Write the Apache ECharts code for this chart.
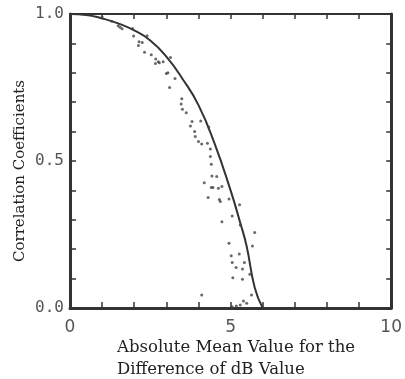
<!DOCTYPE html>
<html>
<head>
<meta charset="utf-8">
<script src="https://cdn.jsdelivr.net/npm/echarts@6/dist/echarts.min.js"></script>
<style>html,body{margin:0;padding:0;background:#fff;}#c{width:405px;height:379px;}</style>
</head>
<body>
<div id="c"></div>
<script>
// ---- data ----
var curveX = [0, 0.5, 1.0, 1.5, 2.0, 2.5, 3.0, 3.5, 4.0, 4.5, 5.0, 5.3, 5.5, 5.75, 6.0];
var curveY = [1.0, 0.997, 0.985, 0.968, 0.944, 0.91, 0.855, 0.78, 0.69, 0.56, 0.40, 0.29, 0.21, 0.07, 0.0];

var scatterX = [1.0, 1.3, 1.5, 1.56, 1.62, 1.95, 1.98, 2.4, 2.15, 2.25, 2.13, 2.32, 2.53, 2.67, 2.75, 2.78, 2.66, 2.9, 3.13, 3.0, 3.05, 3.27, 3.1, 3.48, 3.46, 3.5, 3.62, 3.8, 3.75, 4.07, 4.32, 3.88, 3.9, 4.0, 4.1, 4.28, 4.37, 4.37, 4.4, 4.42, 4.57, 4.18, 4.4, 4.45, 4.62, 4.73, 4.3, 4.65, 4.68, 4.95, 5.28, 5.05, 4.73, 5.3, 5.75, 4.95, 5.68, 5.02, 5.27, 5.05, 5.43, 5.17, 5.37, 5.6, 5.07, 5.37, 4.1, 5.65, 5.4, 5.5, 5.05, 5.18, 5.3];
var scatterY = [0.99, 0.975, 0.96, 0.955, 0.95, 0.951, 0.925, 0.926, 0.906, 0.903, 0.893, 0.87, 0.861, 0.847, 0.838, 0.834, 0.832, 0.838, 0.852, 0.798, 0.80, 0.781, 0.75, 0.712, 0.694, 0.676, 0.664, 0.634, 0.619, 0.636, 0.616, 0.60, 0.583, 0.566, 0.558, 0.56, 0.541, 0.515, 0.489, 0.449, 0.447, 0.426, 0.41, 0.41, 0.407, 0.413, 0.376, 0.369, 0.362, 0.371, 0.351, 0.313, 0.293, 0.282, 0.257, 0.22, 0.211, 0.178, 0.184, 0.155, 0.155, 0.138, 0.133, 0.115, 0.103, 0.098, 0.044, 0.044, 0.024, 0.016, 0.004, 0.007, 0.01];

var xLabeled = [0, 5, 10];
var yLabeled = [0.0, 0.5, 1.0];

var xTitle = 'Absolute Mean Value for the\nDifference of dB Value';
var yTitle = 'Correlation Coefficients';

// ---- build ----
var curveData = curveX.map(function (x, i) { return [x, curveY[i]]; });
var scatterData = scatterX.map(function (x, i) { return [x, scatterY[i]]; });

function isLabeled(list, v) {
  for (var i = 0; i < list.length; i++) { if (Math.abs(list[i] - v) < 1e-6) return true; }
  return false;
}

var axisColor = '#333';
var chart = echarts.init(document.getElementById('c'), null, { renderer: 'canvas' });
chart.setOption({
  animation: false,
  backgroundColor: '#fff',
  grid: { left: 70, right: 2, top: 14, bottom: 71 },
  title: {
    text: xTitle,
    left: 117, top: 337, padding: 0,
    textStyle: { fontFamily: 'DejaVu Serif', fontSize: 16.5, fontWeight: 'normal', color: '#222', lineHeight: 22 }
  },
  graphic: [{
    type: 'text', x: 20, y: 171, rotation: Math.PI / 2,
    style: { text: yTitle, fontFamily: 'DejaVu Serif', fontSize: 15, fill: '#222', align: 'center', verticalAlign: 'middle' }
  }],
  xAxis: [{
    type: 'value', min: 0, max: 10, interval: 1, position: 'bottom',
    axisLine: { show: true, onZero: false, lineStyle: { color: axisColor, width: 3 } },
    axisTick: { show: true, inside: true, length: 6, lineStyle: { color: axisColor, width: 1.5 } },
    axisLabel: {
      margin: 11, fontFamily: 'DejaVu Sans', fontSize: 17, color: '#555',
      formatter: function (v) { return isLabeled(xLabeled, v) ? String(v) : ''; }
    },
    splitLine: { show: false }
  }, {
    type: 'value', min: 0, max: 10, interval: 1, position: 'top',
    axisLine: { show: true, onZero: false, lineStyle: { color: axisColor, width: 2 } },
    axisTick: { show: true, inside: true, length: 5, lineStyle: { color: axisColor, width: 1.5 } },
    axisLabel: { show: false }, splitLine: { show: false }
  }],
  yAxis: [{
    type: 'value', min: 0, max: 1, interval: 0.1, position: 'left',
    axisLine: { show: true, onZero: false, lineStyle: { color: axisColor, width: 3 } },
    axisTick: { show: true, inside: true, length: 6, lineStyle: { color: axisColor, width: 1.5 } },
    axisLabel: {
      margin: 6, fontFamily: 'DejaVu Sans Mono', fontSize: 16, color: '#555',
      formatter: function (v) { return isLabeled(yLabeled, v) ? v.toFixed(1) : ''; }
    },
    splitLine: { show: false }
  }, {
    type: 'value', min: 0, max: 1, interval: 0.1, position: 'right',
    axisLine: { show: true, onZero: false, lineStyle: { color: axisColor, width: 3 } },
    axisTick: { show: true, inside: true, length: 5, lineStyle: { color: axisColor, width: 1.5 } },
    axisLabel: { show: false }, splitLine: { show: false }
  }],
  series: [{
    type: 'line', data: curveData, smooth: true, showSymbol: false, symbol: 'none',
    lineStyle: { color: '#333', width: 2 }, z: 3
  }, {
    type: 'scatter', data: scatterData, symbol: 'circle', symbolSize: 3,
    itemStyle: { color: '#444' }, z: 4
  }]
});
</script>
</body>
</html>
